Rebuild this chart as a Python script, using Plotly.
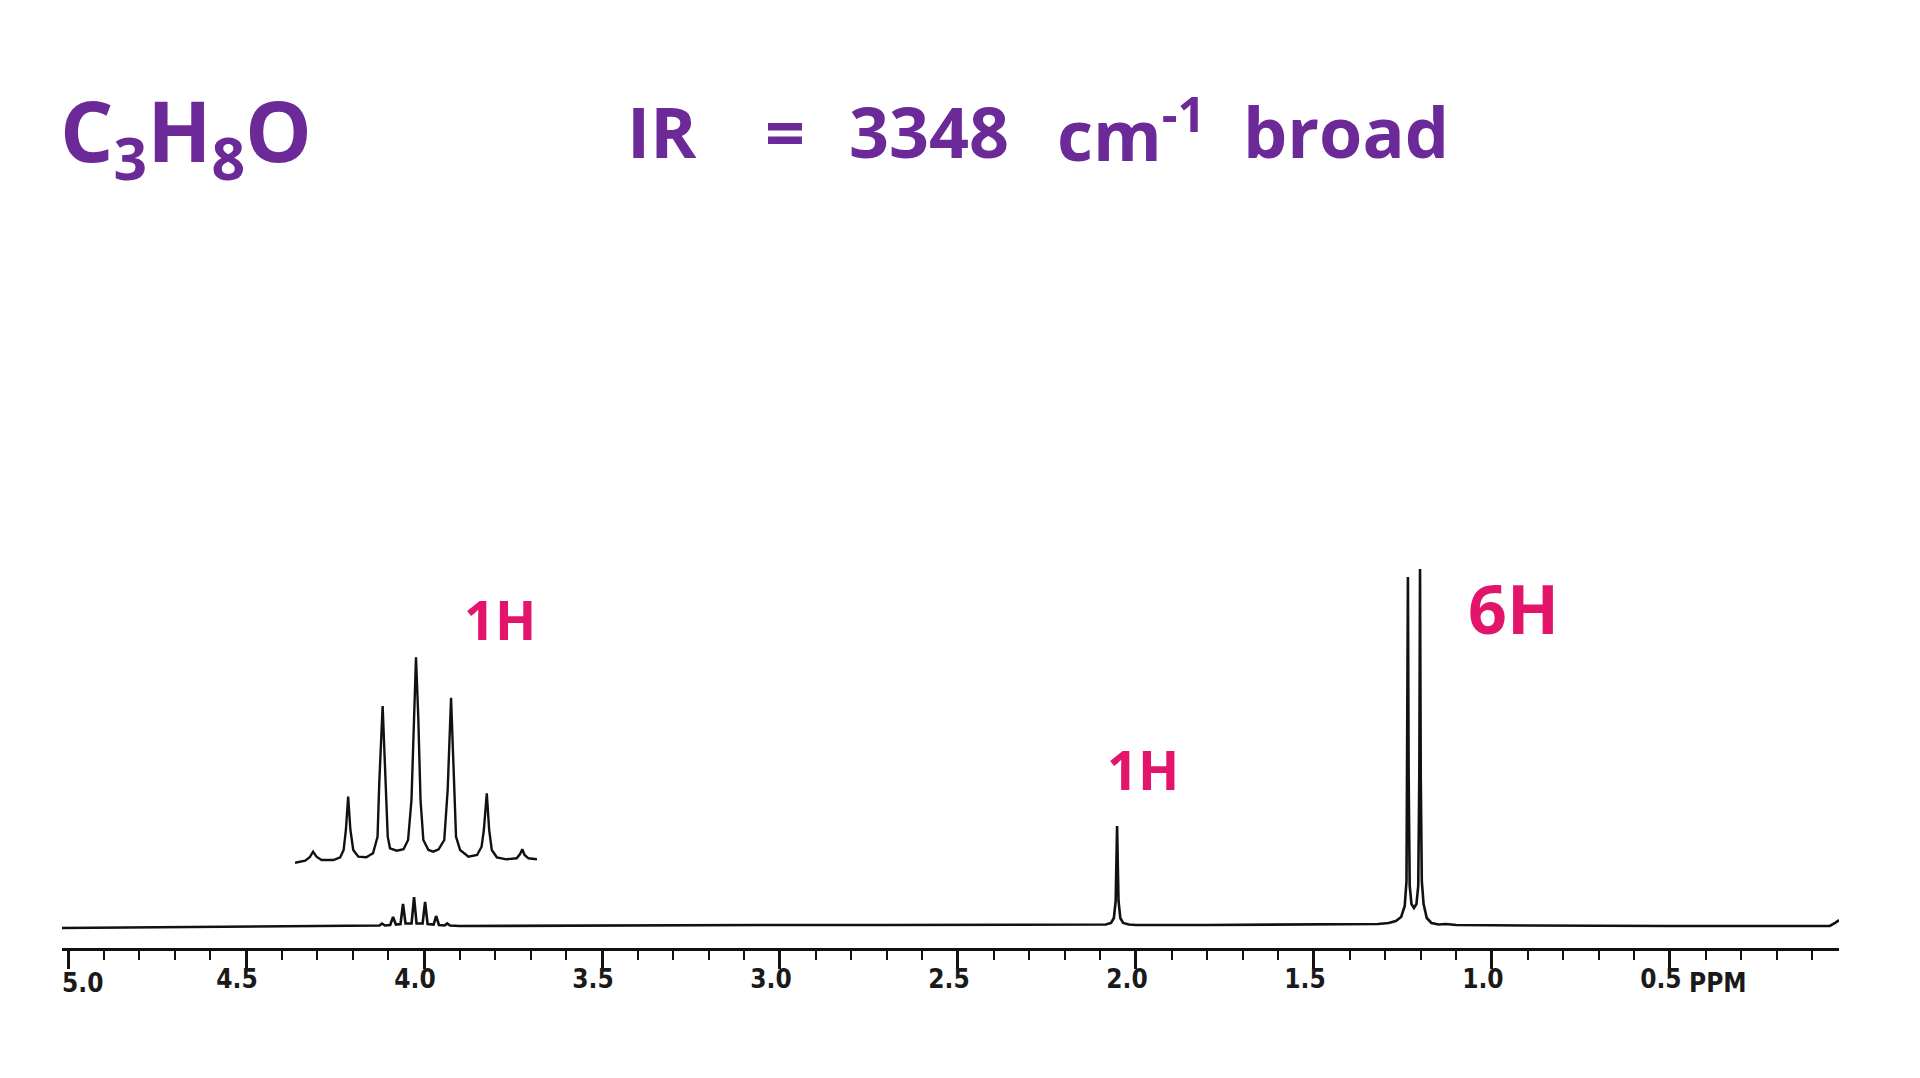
import plotly.graph_objects as go

# ---------------- data ----------------
# main spectrum: chemical shift (ppm) and intensity above baseline
main_ppm = [5.017, 4.80, 4.50, 4.30, 4.20, 4.14, 4.125, 4.118, 4.11, 4.095, 4.087, 4.079,
            4.066, 4.059, 4.052, 4.035, 4.028, 4.021, 4.004, 3.997, 3.990, 3.973, 3.966,
            3.958, 3.942, 3.935, 3.927, 3.90, 3.60, 3.30, 3.00, 2.70, 2.40, 2.20, 2.10,
            2.085, 2.07, 2.062, 2.057, 2.055, 2.053, 2.051, 2.049, 2.044, 2.036, 2.02,
            2.00, 1.80, 1.60, 1.40, 1.32, 1.29, 1.27, 1.255, 1.245, 1.240, 1.238, 1.236,
            1.234, 1.231, 1.226, 1.219, 1.212, 1.207, 1.204, 1.202, 1.200, 1.197, 1.192,
            1.183, 1.17, 1.15, 1.13, 1.10, 0.90, 0.70, 0.50, 0.30, 0.10, 0.051, 0.036, 0.025]
main_int = [-2, -1.5, -1, 0, 0, 0, 0.5, 2.5, 0.5, 1, 9, 1.5,
            2, 22, 2.5, 2.5, 29, 2.5, 2.5, 24, 2, 1.5, 10,
            1, 0.5, 2.5, 0.5, 0, 0.5, 0.5, 1, 1, 1, 1, 1,
            1.5, 3, 8, 25, 60, 100, 60, 25, 8, 3, 1.5,
            1, 1, 1.5, 2, 2, 3, 5, 9, 20, 45, 150, 349,
            150, 40, 22, 18, 22, 40, 150, 357, 150, 45, 22,
            8, 3, 1.5, 2, 1, 0.5, 0, 0, 0, 0, 0, 3, 6]

# expanded multiplet (inset), shift (ppm, expanded scale) and intensity
inset_ppm = [4.135, 4.126, 4.122, 4.119, 4.116, 4.1115, 4.101, 4.095, 4.092, 4.090, 4.088,
             4.086, 4.0835, 4.079, 4.072, 4.066, 4.062, 4.0605, 4.0575, 4.055, 4.053,
             4.051, 4.045, 4.039, 4.035, 4.032, 4.030, 4.028, 4.026, 4.024, 4.0215,
             4.017, 4.0127, 4.008, 4.003, 4.000, 3.997, 3.994, 3.9926, 3.989, 3.9816,
             3.974, 3.970, 3.968, 3.9654, 3.9633, 3.961, 3.9565, 3.948, 3.939, 3.936,
             3.934, 3.932, 3.9285, 3.921]
inset_int = [-0.7, 1.3, 4.7, 10.3, 5.3, 2, 2, 4.7, 12, 32, 65.3,
             32, 12, 5.3, 4.7, 8.7, 25.3, 78.7, 156, 78.7, 25.3,
             13.7, 11.3, 12.7, 22, 62, 145.3, 204.7, 145.3, 62, 22,
             12, 10.3, 12.7, 22, 72, 164.3, 78.7, 25.3, 12, 5.3,
             7, 15.3, 32, 68.7, 32, 12, 4.7, 2.7, 3.7, 8,
             12.7, 7, 3.7, 2.7]

major_ticks = [5.0, 4.5, 4.0, 3.5, 3.0, 2.5, 2.0, 1.5, 1.0, 0.5]
major_labels = ["", "4.5", "4.0", "3.5", "3.0", "2.5", "2.0", "1.5", "1.0", "0.5"]

formula_text = "C<sub>3</sub>H<sub>8</sub>O"
ir_parts = ["IR", "=", "3348", "cm<sup>-1</sup>", "broad"]
integrations = ["1H", "1H", "6H"]

# ---------------- layout (page pixel coordinates) ----------------
OFF = 8                       # default page margin around the plot div
W, H = 1920 - OFF, 1078 - OFF
PL, PR, PAX = 62, 1839, 948   # page px: axis left, axis right, axis row
L, R, AX = PL - OFF, PR - OFF, PAX - OFF
PURPLE = "#6b2a98"
PINK = "#e2156a"
INK = "#111111"
TICKFONT = "DejaVu Sans Condensed"


def px(xpage):
    return (xpage - OFF - L) / (R - L)


def py(ypage):
    return (AX - (ypage - OFF)) / AX


fig = go.Figure()
fig.add_trace(go.Scatter(x=main_ppm, y=main_int, mode="lines",
                         line=dict(color=INK, width=2.6), hoverinfo="skip",
                         xaxis="x", yaxis="y"))
fig.add_trace(go.Scatter(x=inset_ppm, y=inset_int, mode="lines",
                         line=dict(color=INK, width=2.4), hoverinfo="skip",
                         xaxis="x2", yaxis="y2"))

hand = dict(family="Open Sans", weight=700)
annotations = [
    dict(text=formula_text, x=px(58), y=py(134), xref="paper", yref="paper",
         xanchor="left", yanchor="middle", showarrow=False,
         font=dict(size=84, color=PURPLE, **hand)),
]
ir_pos = [625, 763, 847, 1055, 1241]
for part, xl in zip(ir_parts, ir_pos):
    annotations.append(dict(text=part, x=px(xl), y=py(131), xref="paper", yref="paper",
                            xanchor="left", yanchor="middle", showarrow=False,
                            font=dict(size=70, color=PURPLE, **hand)))

int_pos = [(500, 619, 54), (1143, 769, 54), (1513, 607, 68)]
for txt, (cx, cy, fs) in zip(integrations, int_pos):
    annotations.append(dict(text=txt, x=px(cx), y=py(cy), xref="paper", yref="paper",
                            xanchor="center", yanchor="middle", showarrow=False,
                            font=dict(size=fs, color=PINK, **hand)))

annotations += [
    dict(text="5.0", x=5.0, y=0, xref="x", yref="paper", xanchor="left",
         yanchor="top", xshift=-8, yshift=-18, showarrow=False,
         font=dict(family=TICKFONT, size=26, color="#1a1a1a", weight=700)),
    dict(text="PPM", x=0.5, y=0, xref="x", yref="paper", xanchor="left",
         yanchor="top", xshift=17, yshift=-18, showarrow=False,
         font=dict(family=TICKFONT, size=26, color="#1a1a1a", weight=700)),
]

fig.update_layout(
    width=W, height=H,
    margin=dict(l=L, r=W - R, t=0, b=H - AX, pad=0),
    paper_bgcolor="white", plot_bgcolor="white",
    showlegend=False,
    annotations=annotations,
    xaxis=dict(range=[5.017, 0.025], domain=[0, 1], showgrid=False, zeroline=False,
               showline=True, linecolor=INK, linewidth=2.6,
               tickmode="array", tickvals=major_ticks, ticktext=major_labels,
               ticks="outside", ticklen=18, tickwidth=2.6, tickcolor=INK,
               ticklabelshift=9, ticklabelstandoff=-12,
               tickfont=dict(family=TICKFONT, size=26, color="#1a1a1a", weight=700),
               minor=dict(tickmode="linear", tick0=0, dtick=0.1, ticks="outside",
                          ticklen=9, tickwidth=2.4, tickcolor=INK, showgrid=False),
               fixedrange=True),
    yaxis=dict(range=[-22, AX - 22], domain=[0, 1], visible=False, fixedrange=True),
    xaxis2=dict(range=[4.135, 3.921], domain=[px(295), px(537)], anchor="y2",
                visible=False, fixedrange=True),
    yaxis2=dict(range=[-18, 222], domain=[py(880), py(640)], anchor="x2",
                visible=False, fixedrange=True),
)

fig.write_html("out.html")
